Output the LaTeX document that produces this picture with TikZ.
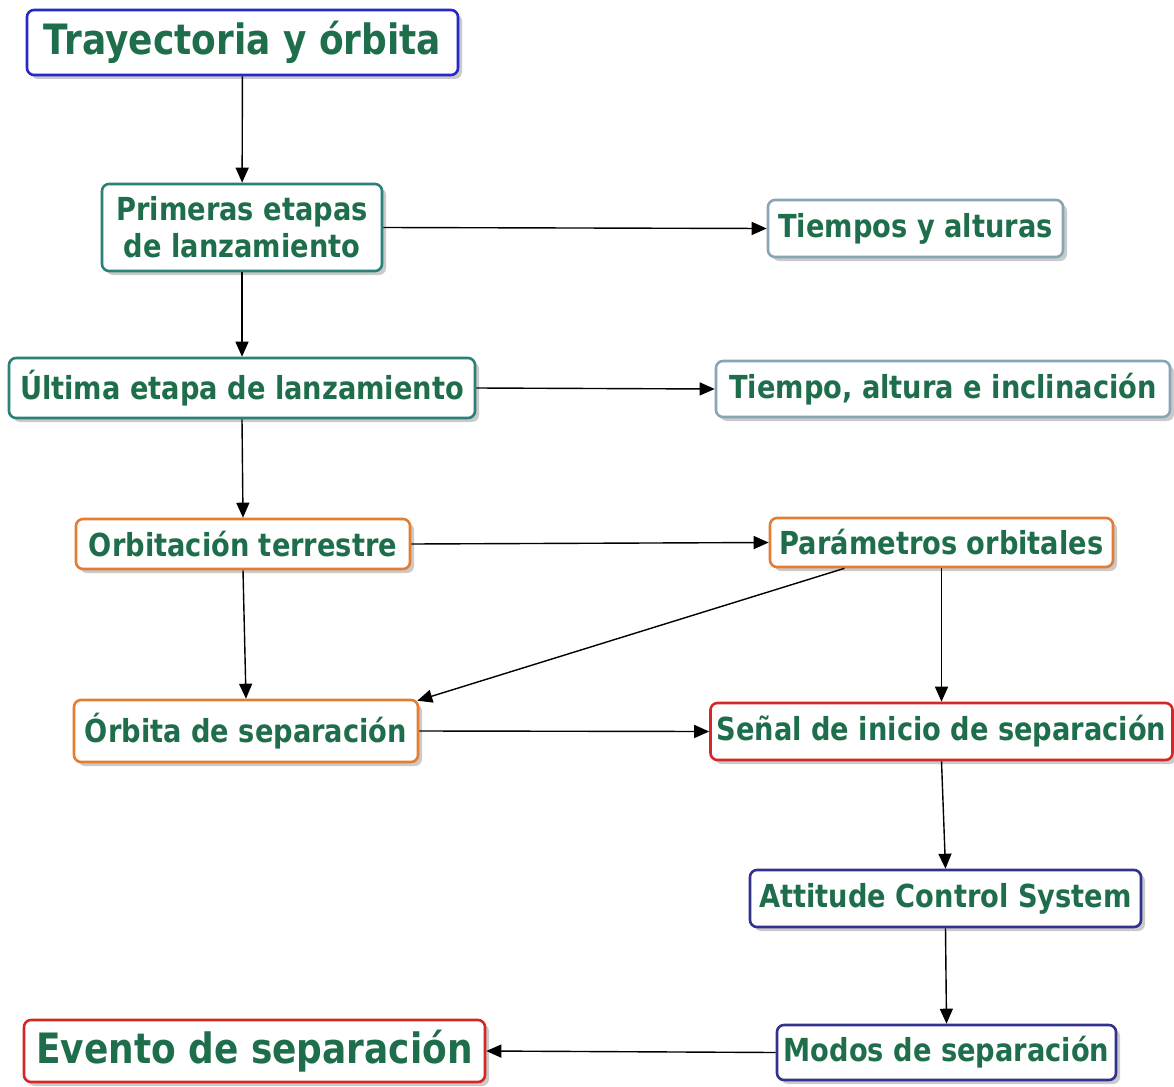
\documentclass[tikz,border=0pt]{standalone}
\usepackage{fontspec}
\setmainfont{DejaVu Sans}[FakeStretch=0.86]
\usetikzlibrary{shadows,arrows.meta}
\definecolor{txtgreen}{RGB}{30,110,75}
\definecolor{cblue}{RGB}{40,40,200}
\definecolor{cteal}{RGB}{40,130,120}
\definecolor{cgray}{RGB}{135,165,180}
\definecolor{corange}{RGB}{228,125,50}
\definecolor{cred}{RGB}{210,40,40}
\definecolor{cnavy}{RGB}{50,50,140}
\tikzset{
  box/.style={draw, line width=2.6pt, rounded corners=7pt, fill=white,
    text=txtgreen, font=\bfseries\fontsize{31.7}{37}\selectfont, align=center,
    inner sep=0pt,
    drop shadow={opacity=0.35, shadow xshift=4pt, shadow yshift=-4pt, fill=black!60}},
  bigbox/.style={box, font=\bfseries\fontsize{41.8}{46}\selectfont},
  conn/.style={line width=1.4pt, -{Triangle[length=15pt,width=13pt]}}
}
\begin{document}
\begin{tikzpicture}[x=1pt,y=-1pt]
\useasboundingbox (0,0) rectangle (1174,1086);
\node[bigbox, draw=cblue, minimum width=431pt, minimum height=65pt] (tray) at (242.5,42.5) {Trayectoria y órbita};
\node[box, draw=cteal, minimum width=280pt, minimum height=87pt] (prim) at (242,227.5) {Primeras etapas\\de lanzamiento};
\node[box, draw=cgray, minimum width=295pt, minimum height=57pt] (tiempos) at (915.5,228.5) {Tiempos y alturas};
\node[box, draw=cteal, minimum width=466pt, minimum height=60pt] (ult) at (242,388) {Última etapa de lanzamiento};
\node[box, draw=cgray, minimum width=454pt, minimum height=56pt] (tiempo) at (943,389) {Tiempo, altura e inclinación};
\node[box, draw=corange, minimum width=334pt, minimum height=50pt] (orbit) at (243,544) {Orbitación terrestre};
\node[box, draw=corange, minimum width=343pt, minimum height=49pt] (param) at (941.5,542.5) {Parámetros orbitales};
\node[box, draw=corange, minimum width=344pt, minimum height=62pt] (orbsep) at (246,731) {Órbita de separación};
\node[box, draw=cred, minimum width=462pt, minimum height=57pt] (senal) at (941.5,731.5) {Señal de inicio de separación};
\node[box, draw=cnavy, minimum width=391pt, minimum height=57pt] (acs) at (945.5,898.5) {Attitude Control System};
\node[box, draw=cnavy, minimum width=339pt, minimum height=55pt] (modos) at (946.5,1052.5) {Modos de separación};
\node[bigbox, draw=cred, minimum width=461pt, minimum height=62pt] (evento) at (254.5,1051) {Evento de separación};

\draw[conn] (tray) -- (prim);
\draw[conn] (prim) -- (ult);
\draw[conn] (prim.east) -- (tiempos.west);
\draw[conn] (ult.east) -- (tiempo.west);
\draw[conn] (ult.south) -- (orbit.north);
\draw[conn] (orbit.east) -- (param.west);
\draw[conn] (orbit.south) -- (orbsep.north);
\draw[conn] ([xshift=-97pt]param.south) -- ([xshift=-2pt,yshift=-2pt]orbsep.north east);
\draw[conn] (param.south) -- (senal.north);
\draw[conn] (orbsep.east) -- (senal.west);
\draw[conn] (senal.south) -- (acs.north);
\draw[conn] (acs.south) -- (modos.north);
\draw[conn] (modos.west) -- (evento.east);
\end{tikzpicture}
\end{document}
